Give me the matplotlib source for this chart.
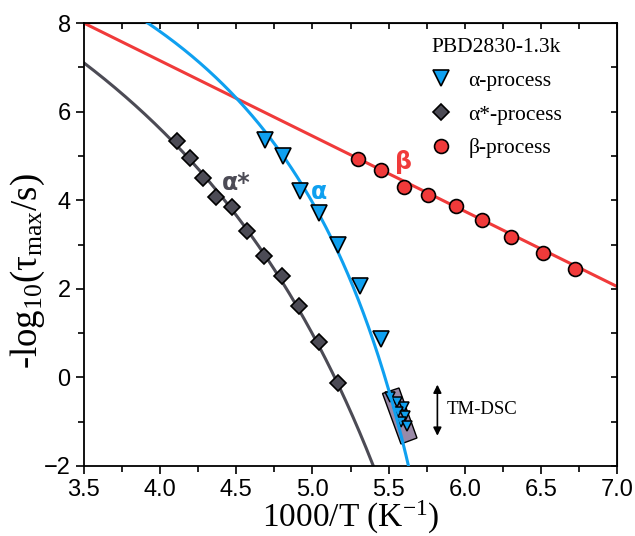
import numpy as np
import matplotlib
matplotlib.use("Agg")
from matplotlib import pyplot as plt
from matplotlib.patches import Polygon
from matplotlib.ticker import MultipleLocator

# beta process (Arrhenius)
beta_x = [5.30, 5.45, 5.60, 5.76, 5.94, 6.11, 6.30, 6.51, 6.72]
beta_y = [4.93, 4.68, 4.30, 4.12, 3.87, 3.55, 3.17, 2.81, 2.45]
beta_fit = (8.0, -1.70)  # intercept at x=3.5, slope

# alpha process
alpha_x = [4.69, 4.81, 4.92, 5.04, 5.17, 5.31, 5.45]
alpha_y = [5.35, 5.00, 4.21, 3.71, 2.99, 2.06, 0.87]
# TM-DSC points
dsc_x = [5.509, 5.555, 5.601, 5.562, 5.608, 5.581, 5.621]
dsc_y = [-0.44, -0.56, -0.67, -0.78, -0.87, -1.01, -1.10]
alpha_vft = (11.82, 409.1, 148.0)  # A, B, T0

# alpha* process
astar_x = [4.11, 4.20, 4.28, 4.37, 4.47, 4.57, 4.68, 4.80, 4.91, 5.04, 5.17]
astar_y = [5.34, 4.95, 4.50, 4.07, 3.85, 3.30, 2.74, 2.29, 1.61, 0.80, -0.13]
astar_vft = (12.10, 778.2, 130.0)

# TM-DSC highlight box corners
box = [(5.460, -0.363), (5.568, -0.239), (5.686, -1.368), (5.581, -1.503)]

red = '#f03a3a'
blue = '#0fa0f0'
grey = '#4c4b55'

def vft(x, p):
    A, B, T0 = p
    T = 1000.0 / x
    return A - B / (T - T0)

plt.rcParams['mathtext.fontset'] = 'custom'
plt.rcParams['mathtext.rm'] = 'Liberation Serif'
plt.rcParams['mathtext.it'] = 'Liberation Serif'

fig = plt.figure(figsize=(6.35, 5.36), dpi=100)
ax = fig.add_axes([0.132, 0.1306, 0.84, 0.8264])

xs = np.linspace(3.5, 7.0, 200)
ax.plot(xs, beta_fit[0] + beta_fit[1] * (xs - 3.5), color=red, lw=2.2, zorder=2)
xa = np.linspace(3.8, 5.7, 400)
ax.plot(xa, vft(xa, alpha_vft), color=blue, lw=2.2, zorder=3)
xb = np.linspace(3.5, 5.45, 400)
ax.plot(xb, vft(xb, astar_vft), color=grey, lw=2.2, zorder=2)

ax.add_patch(Polygon(box, closed=True, facecolor='#9a8aa8', edgecolor='black', lw=1, zorder=1.5))
ax.plot(dsc_x, dsc_y, 'v', ms=7.5, mfc=blue, mec='black', mew=1.1, ls='none', zorder=2)

ax.plot(alpha_x, alpha_y, 'v', ms=11, mfc=blue, mec='black', mew=1.2, ls='none',
        zorder=4, label='α-process')
ax.plot(astar_x, astar_y, 'D', ms=8.5, mfc=grey, mec='black', mew=1.2, ls='none',
        zorder=4, label='α*-process')
ax.plot(beta_x, beta_y, 'o', ms=10, mfc=red, mec='black', mew=1.2, ls='none',
        zorder=4, label='β-process')

ax.text(4.50, 4.39, 'α*', color=grey, fontsize=17, fontweight='bold', ha='center', va='center')
ax.text(5.04, 4.19, 'α', color=blue, fontsize=17, fontweight='bold', ha='center', va='center')
ax.text(5.60, 4.86, 'β', color=red, fontsize=17, fontweight='bold', ha='center', va='center')

ax.annotate('', xy=(5.82, -1.38), xytext=(5.82, -0.10),
            arrowprops=dict(arrowstyle='<|-|>', color='black', lw=1.2, mutation_scale=12))
ax.text(5.88, -0.72, 'TM-DSC', fontsize=13.5, family='Liberation Serif', va='center')

leg = ax.legend(loc='upper left', bbox_to_anchor=(0.634, 0.986), frameon=False,
                title='PBD2830-1.3k', prop={'family': 'Liberation Serif', 'size': 15.5},
                handlelength=1.0, handletextpad=0.75, labelspacing=0.64, borderaxespad=0)
leg.get_title().set_fontfamily('Liberation Serif')
leg.get_title().set_fontsize(15.5)

ax.set_xlim(3.5, 7.0)
ax.set_ylim(-2, 8)
ax.xaxis.set_major_locator(MultipleLocator(0.5))
ax.xaxis.set_minor_locator(MultipleLocator(0.25))
ax.yaxis.set_major_locator(MultipleLocator(2))
ax.yaxis.set_minor_locator(MultipleLocator(1))
ax.tick_params(which='both', direction='out', top=False, right=False, width=1.2)
ax.tick_params(which='major', length=6, labelsize=17)
ax.tick_params(which='minor', length=4)
for lab in ax.get_xticklabels() + ax.get_yticklabels():
    lab.set_fontfamily('Liberation Sans')
sec = ax.secondary_xaxis('top')
sec.xaxis.set_major_locator(MultipleLocator(0.25))
sec.tick_params(direction='in', length=4, labeltop=False, width=1.2)
secy = ax.secondary_yaxis('right')
secy.yaxis.set_major_locator(MultipleLocator(1))
secy.tick_params(direction='in', length=4, labelright=False, width=1.2)
for s in ax.spines.values():
    s.set_linewidth(1.3)

ax.set_xlabel(r'1000/T (K$^{-1}$)', fontsize=24, family='Liberation Serif', labelpad=-1.5)
ax.set_ylabel(r'-log$_{\rm 10}$($\rm \tau_{max}$/s)', fontsize=26.5, family='Liberation Serif')
ax.yaxis.set_label_coords(-0.069, 0.44)

fig.savefig('out.png', dpi=100)
